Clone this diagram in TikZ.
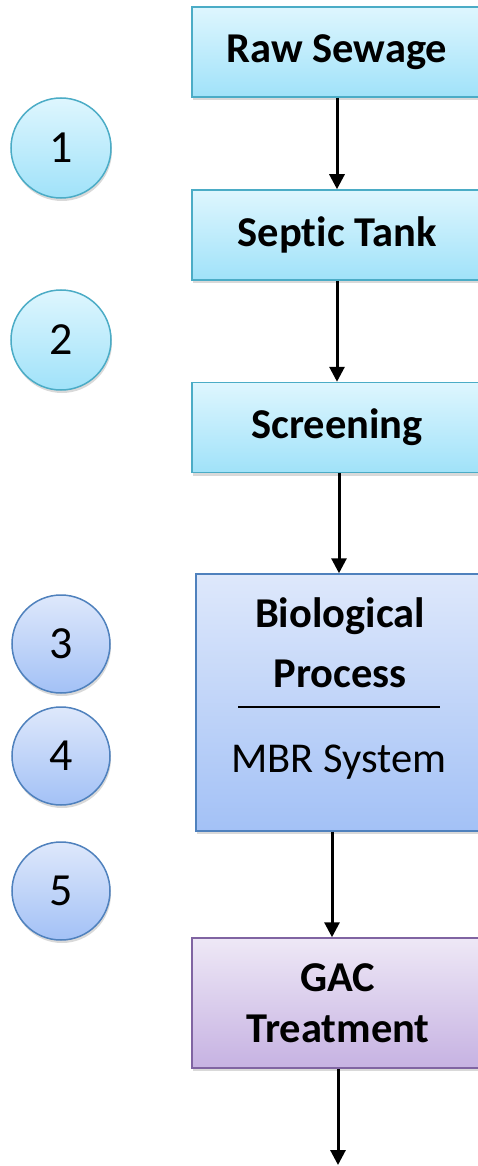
\documentclass[tikz,border=0pt]{standalone}
\usepackage{fontspec}
\setmainfont[Ligatures={NoCommon}]{Carlito}
\usetikzlibrary{arrows.meta,shadows}
\definecolor{cyTop}{RGB}{222,246,254}
\definecolor{cyBot}{RGB}{160,226,249}
\definecolor{cyLine}{RGB}{75,172,198}
\definecolor{blTop}{RGB}{222,232,251}
\definecolor{blBot}{RGB}{163,193,246}
\definecolor{blLine}{RGB}{79,129,189}
\definecolor{puTop}{RGB}{238,232,246}
\definecolor{puBot}{RGB}{198,178,226}
\definecolor{puLine}{RGB}{128,100,162}
\tikzset{
  x=1pt,y=1pt,
  shad/.style={drop shadow={shadow xshift=1pt,shadow yshift=-3pt,opacity=0.15,fill=black}},
  cybox/.style={rectangle,draw=cyLine,line width=1.5pt,top color=cyTop,bottom color=cyBot,
    minimum width=290pt,minimum height=90pt,inner sep=0pt,shad,
    font=\fontsize{42.5}{51}\selectfont\bfseries,align=center},
  blbox/.style={rectangle,draw=blLine,line width=1.5pt,top color=blTop,bottom color=blBot,
    minimum width=290pt,minimum height=257pt,inner sep=0pt,shad},
  pubox/.style={rectangle,draw=puLine,line width=1.5pt,top color=puTop,bottom color=puBot,
    minimum width=292pt,minimum height=130pt,inner sep=0pt,shad,
    font=\fontsize{42.5}{51}\selectfont\bfseries,align=center},
  cycirc/.style={circle,draw=cyLine,line width=1.5pt,top color=cyTop,bottom color=cyBot,
    minimum size=100pt,inner sep=0pt,shad,font=\fontsize{46}{50}\selectfont},
  blcirc/.style={circle,draw=blLine,line width=1.5pt,top color=blTop,bottom color=blBot,
    minimum size=98pt,inner sep=0pt,shad,font=\fontsize{46}{50}\selectfont},
  arr/.style={line width=3pt,-{Triangle[length=15pt,width=15pt]}},
  boldtxt/.style={font=\fontsize{42.5}{51}\selectfont\bfseries,anchor=base,inner sep=0pt},
  regtxt/.style={font=\fontsize{42.5}{51}\selectfont,anchor=base,inner sep=0pt}
}
\begin{document}
\begin{tikzpicture}
\clip (0,0) rectangle (478,-1166);
\fill[white] (0,0) rectangle (478,-1166);
% boxes
\node[cybox] (raw) at (337,-52) {Raw Sewage};
\node[cybox] (sep) at (337,-235) {Septic Tank};
\node[cybox] (scr) at (337,-427.5) {Screening};
\node[blbox] (bio) at (341,-702.5) {};
\node[boldtxt] (bioA) at (340,-627) {Biological};
\node[boldtxt] (bioB) at (340,-687) {Process};
\node[regtxt] (bioC) at (339,-772) {MBR System};
\draw[line width=1.2pt] (238,-707) -- (440,-707);
\node[pubox] (gac) at (338,-1003) {GAC\\Treatment};
% circles
\node[cycirc] (c1) at (61,-148) {1};
\node[cycirc] (c2) at (61,-340) {2};
\node[blcirc] (c3) at (61,-644) {3};
\node[blcirc] (c4) at (61,-756) {4};
\node[blcirc] (c5) at (61,-891) {5};
% connectors
\coordinate (out) at (338,-1165);
\draw[arr] (raw.south) -- (sep.north);
\draw[arr] (sep.south) -- (scr.north);
\draw[arr] (scr.south -| 339,0) -- (bio.north -| 339,0);
\draw[arr] (bio.south -| 332,0) -- (gac.north -| 332,0);
\draw[arr] (gac.south) -- (out);
\end{tikzpicture}
\end{document}
